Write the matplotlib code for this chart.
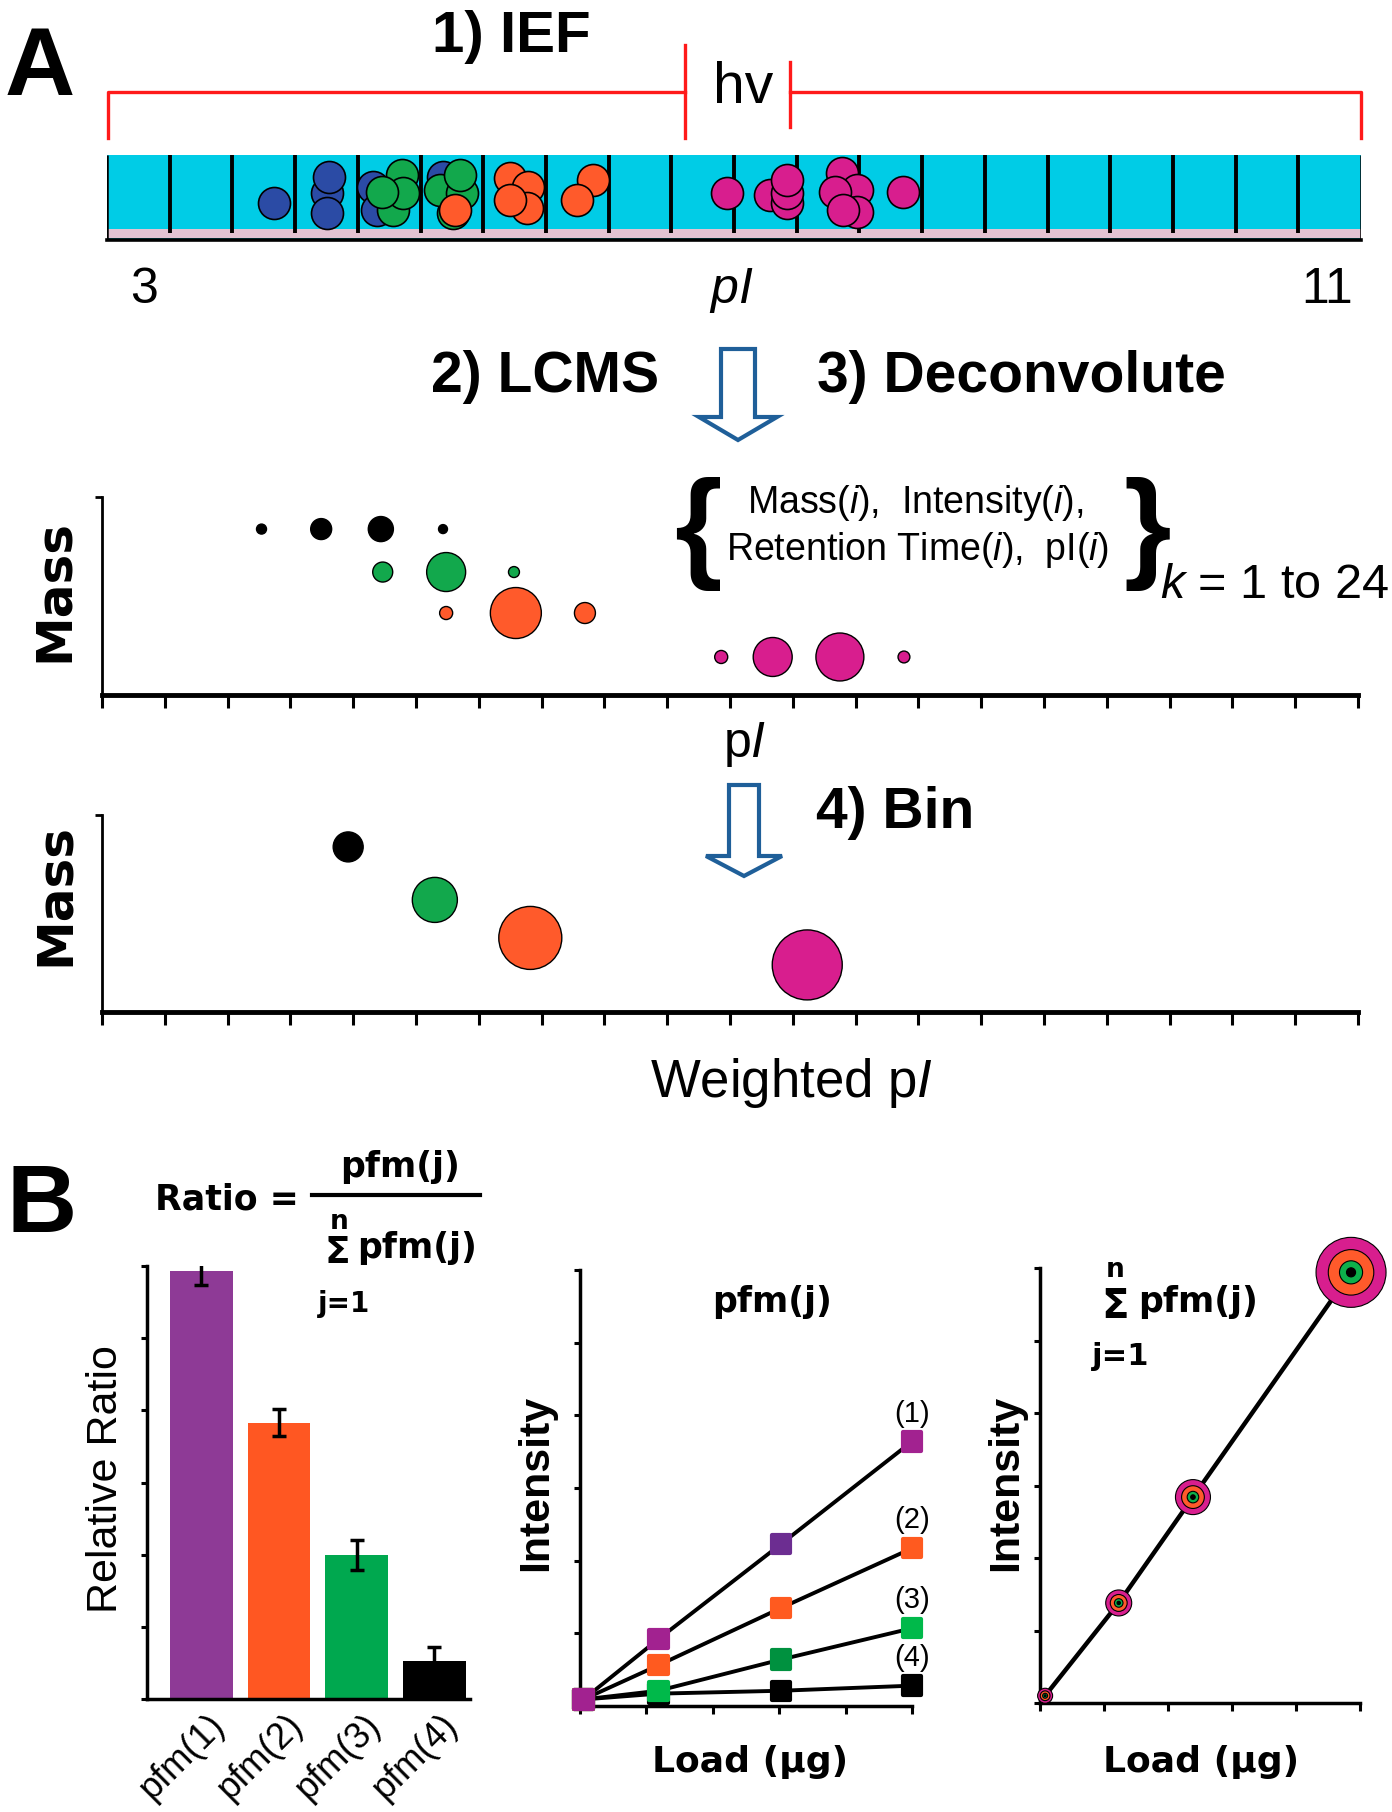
import matplotlib
matplotlib.use('Agg')
import matplotlib.pyplot as plt
from matplotlib.patches import Polygon
from matplotlib.markers import MarkerStyle
import matplotlib.transforms as mtransforms

plt.rcParams['font.family'] = ['Liberation Sans', 'DejaVu Sans']
plt.rcParams['mathtext.fontset'] = 'custom'
plt.rcParams['mathtext.rm'] = 'Liberation Sans'
plt.rcParams['mathtext.it'] = 'Liberation Sans:italic'
plt.rcParams['mathtext.bf'] = 'Liberation Sans:bold'

# ---------------- data ----------------
# 1) IEF tube: fraction position (0-20) and height inside the tube (0-1)
tube_blue_x = [2.66, 3.51, 3.54, 3.51, 5.36, 4.24, 4.31]
tube_blue_y = [0.435, 0.553, 0.741, 0.318, 0.741, 0.624, 0.353]
tube_green_x = [4.56, 4.70, 4.72, 4.39, 5.52, 5.31, 5.66, 5.63]
tube_green_y = [0.353, 0.765, 0.553, 0.565, 0.318, 0.588, 0.553, 0.765]
tube_orange_x = [5.55, 6.43, 6.71, 6.70, 6.43, 7.75, 7.50]
tube_orange_y = [0.353, 0.729, 0.624, 0.376, 0.471, 0.706, 0.471]
tube_magenta_x = [9.89, 10.57, 10.85, 10.85, 10.85, 11.72, 11.96, 11.61, 11.96, 11.74, 12.70]
tube_magenta_y = [0.553, 0.529, 0.435, 0.553, 0.706, 0.788, 0.588, 0.565, 0.329, 0.353, 0.565]

# 2/3) deconvoluted features: pI (fraction units), mass, intensity
lcms_pi = {
    'black': [2.54, 3.49, 4.44, 5.43],
    'green': [4.47, 5.48, 6.56],
    'orange': [5.48, 6.59, 7.69],
    'magenta': [9.86, 10.68, 11.75, 12.77],
}
lcms_mass = {'black': 8.38, 'green': 6.21, 'orange': 4.14, 'magenta': 1.92}
lcms_int = {
    'black': [1.0, 4.4, 6.3, 0.8],
    'green': [4.0, 15.2, 1.2],
    'orange': [1.7, 26.0, 4.4],
    'magenta': [1.7, 15.2, 23.0, 1.4],
}

# 4) binned features
bin_pi = [3.92, 5.30, 6.82, 11.23]
bin_mass = [8.38, 5.69, 3.76, 2.39]
bin_int = [9.0, 20.3, 39.7, 49.0]

# B) relative ratio bars
pfm_labels = ['pfm(1)', 'pfm(2)', 'pfm(3)', 'pfm(4)']
ratio_vals = [5.93, 3.83, 2.00, 0.52]
ratio_err = [0.19, 0.19, 0.21, 0.20]

# B) intensity vs load for each pfm
load = [0.05, 1.18, 3.03, 5.0]
pfm1_int = [0.09, 0.92, 2.23, 3.64]
pfm2_int = [0.09, 0.56, 1.35, 2.17]
pfm3_int = [0.09, 0.21, 0.64, 1.07]
pfm4_int = [0.09, 0.17, 0.21, 0.28]

# B) summed intensity vs load
sum_load = [0.08, 1.23, 2.39, 4.86]
sum_int = [0.10, 1.38, 2.84, 5.94]
sum_size = [2.25, 6.76, 12.25, 49.0]
ring_frac = [1.0, 0.65, 0.33, 0.13]

# ---------------- style ----------------
C = {'blue': '#2B4BA5', 'green': '#12A84C', 'orange': '#FF5A2B',
     'magenta': '#D81E8E', 'black': '#000000'}
CYAN = '#00CCE6'
PINK = '#E2C3D3'
RED = '#FF1A1A'
ARROW = '#1F5F99'
BOLDWIDE = dict(family='DejaVu Sans', weight='bold')

W, H = 1392, 1812
fig = plt.figure(figsize=(W / 100, H / 100), dpi=100)


def px_axes(l, t, r, b):
    return fig.add_axes([l / W, 1 - b / H, (r - l) / W, (b - t) / H])


def area(v, scale=10.0):
    # intensity -> marker area in pt^2 (diameter in px = scale*sqrt(v))
    return v * (scale * 0.72) ** 2


# ---- tube ----
ax = px_axes(107, 155, 1361, 240)
ax.set_xlim(0, 20)
ax.set_ylim(0, 1)
ax.set_facecolor(CYAN)
ax.axhspan(0.02, 0.13, color=PINK, lw=0)
ax.vlines(range(1, 20), 0.08, 1.0, color='black', lw=2.8)
ax.vlines([0, 20], 0.0, 1.0, color='black', lw=1.8)
for sp in ['top', 'left', 'right']:
    ax.spines[sp].set_visible(False)
ax.spines['bottom'].set_linewidth(2.6)
ax.set_xticks([])
ax.set_yticks([])
for xs, ys, col in [(tube_blue_x, tube_blue_y, 'blue'),
                    (tube_green_x, tube_green_y, 'green'),
                    (tube_orange_x, tube_orange_y, 'orange'),
                    (tube_magenta_x, tube_magenta_y, 'magenta')]:
    for x, y in zip(xs, ys):
        ax.scatter([x], [y], s=(32 * 0.72) ** 2, color=C[col], edgecolors='black',
                   linewidths=1.2, zorder=3, clip_on=False)


def pi_axes(t, b):
    a = px_axes(102, t, 1358, b)
    a.set_xlim(0, 20)
    a.set_ylim(0, 10)
    a.spines['top'].set_visible(False)
    a.spines['right'].set_visible(False)
    a.spines['bottom'].set_linewidth(3.5)
    a.spines['left'].set_linewidth(2.0)
    a.set_xticks(range(21))
    a.set_yticks([10])
    a.tick_params(axis='x', direction='out', length=9, width=2.2, labelbottom=False)
    a.tick_params(axis='y', direction='out', length=5, width=2.0, labelleft=False)
    a.patch.set_alpha(0)
    return a


# ---- deconvoluted scatter ----
ax = pi_axes(497, 695)
for col in ['black', 'green', 'orange', 'magenta']:
    xs = lcms_pi[col]
    ax.scatter(xs, [lcms_mass[col]] * len(xs), s=[area(v) for v in lcms_int[col]],
               color=C[col], edgecolors='black', linewidths=1.0, zorder=3, clip_on=False)

# ---- binned scatter ----
ax = pi_axes(815, 1012)
bin_cols = ['black', 'green', 'orange', 'magenta']
ax.scatter(bin_pi, bin_mass, s=[area(v) for v in bin_int], color=[C[c] for c in bin_cols],
           edgecolors='black', linewidths=1.0, zorder=3, clip_on=False)

# ---- bar chart ----
ax = px_axes(147, 1266, 470, 1699)
pos = list(range(len(ratio_vals)))
bar_cols = ['#8E3A96', '#FF5722', '#00A84F', '#000000']
ax.bar(pos, ratio_vals, width=0.81, color=bar_cols, zorder=2)
ax.errorbar(pos, ratio_vals, yerr=ratio_err, fmt='none', ecolor='black',
            elinewidth=2.5, capsize=5, capthick=2.5, zorder=3)
ax.set_xlim(-0.70, 3.46)
ax.set_ylim(0, 6)
ax.set_yticks(range(7))
ax.set_xticks([])
lab_tr = ax.get_xaxis_transform() + mtransforms.ScaledTranslation(
    6 / 100, -8 / 100, fig.dpi_scale_trans)
for p, lab in zip(pos, pfm_labels):
    ax.text(p, 0, lab, transform=lab_tr, rotation=45, ha='right', va='top',
            rotation_mode='anchor', fontsize=26, clip_on=False)
ax.tick_params(axis='y', direction='out', length=4, width=2.2, labelleft=False)
for sp in ['top', 'right']:
    ax.spines[sp].set_visible(False)
for sp in ['left', 'bottom']:
    ax.spines[sp].set_linewidth(2.5)


def load_axes(l, t, r, b):
    a = px_axes(l, t, r, b)
    a.set_xlim(0, 5)
    a.set_ylim(0, 6)
    a.set_xticks(range(6))
    a.set_yticks(range(7))
    a.tick_params(axis='x', direction='out', length=6, width=2.2, labelbottom=False)
    a.tick_params(axis='y', direction='out', length=4, width=2.2, labelleft=False)
    for sp in ['top', 'right']:
        a.spines[sp].set_visible(False)
    for sp in ['left', 'bottom']:
        a.spines[sp].set_linewidth(2.5)
    a.patch.set_alpha(0)
    return a


# ---- pfm(j) intensity vs load ----
ax = load_axes(580, 1270, 912, 1706)
sq = MarkerStyle('s', joinstyle='round')
series = [
    (pfm4_int, ['#000000'] * 4, '(4)'),
    (pfm3_int, ['#00B94A', '#00B94A', '#00913F', '#00B94A'], '(3)'),
    (pfm2_int, ['#FF5A1F'] * 4, '(2)'),
    (pfm1_int, ['#A22290', '#A22290', '#6C2D91', '#A22290'], '(1)'),
]
for ys, cols, lab in series:
    ax.plot(load, ys, color='black', lw=2.8, zorder=2, clip_on=False)
for ys, cols, lab in series:
    ax.scatter(load, ys, s=175, marker=sq, color=cols, edgecolors=cols,
               linewidths=3, zorder=3, clip_on=False)
    ax.annotate(lab, (load[-1], ys[-1]), xytext=(0, 10), textcoords='offset points',
                ha='center', va='bottom', fontsize=21)

# ---- summed intensity vs load ----
ax = load_axes(1040, 1268, 1360, 1703)
ax.plot(sum_load, sum_int, color='black', lw=3.2, zorder=2, clip_on=False)
ring_cols = [C['magenta'], C['orange'], '#0DB04B', '#000000']
for f, col in zip(ring_frac, ring_cols):
    ax.scatter(sum_load, sum_int, s=[area(v * f * f) for v in sum_size], color=col,
               edgecolors='black', linewidths=0.8, zorder=3, clip_on=False)

# ---------------- overlay: labels, bracket, arrows ----------------
ov = fig.add_axes([0, 0, 1, 1], zorder=10)
ov.set_xlim(0, W)
ov.set_ylim(H, 0)
ov.axis('off')


def txt(x, y, s, size, **kw):
    kw.setdefault('ha', 'center')
    kw.setdefault('va', 'baseline')
    ov.text(x, y, s, fontsize=size, **kw)


# panel A
txt(40, 95, 'A', 70, weight='bold')
txt(511, 52, '1) IEF', 42, weight='bold')
txt(743, 103, 'hv', 41)
ov.plot([108, 108, 685], [138, 92, 92], color=RED, lw=2.4)
ov.plot([685, 685], [45, 138], color=RED, lw=2.4)
ov.plot([790, 790], [62, 127], color=RED, lw=2.4)
ov.plot([790, 1361, 1361], [92, 92, 138], color=RED, lw=2.4)
txt(144, 303, '3', 36)
txt(731, 303, r'$\it{pI}$', 36)
txt(1327, 303, '11', 36)

txt(545, 392, '2) LCMS', 41, weight='bold')
txt(1021, 392, '3) Deconvolute', 41, weight='bold')
txt(895, 828, '4) Bin', 41, weight='bold')


def hollow_arrow(cx, top, base, tip, shaft_half, head_half):
    pts = [(cx - shaft_half, top), (cx + shaft_half, top), (cx + shaft_half, base),
           (cx + head_half, base), (cx, tip), (cx - head_half, base),
           (cx - shaft_half, base)]
    ov.add_patch(Polygon(pts, closed=True, facecolor='white', edgecolor=ARROW,
                         lw=3.0, joinstyle='miter'))


hollow_arrow(738, 349, 417, 440, 17, 39)
hollow_arrow(744, 785, 856, 876, 15, 38)

txt(698, 534, '{', 88, va='center', weight='bold', family='Liberation Sans')
txt(1147, 534, '}', 88, va='center', weight='bold', family='Liberation Sans')
txt(915, 513, r'Mass($\it{i}$),  Intensity($\it{i}$),', 27)
txt(918, 560, r'Retention Time($\it{i}$),  pI($\it{i}$)', 27)
txt(1160, 598, r'$\it{k}$ = 1 to 24', 35, ha='left')

txt(54, 590, 'Mass', 36, va='center', rotation=90, **BOLDWIDE)
txt(55, 895, 'Mass', 36, va='center', rotation=90, **BOLDWIDE)
txt(745, 757, r'p$\it{I}$', 36)
txt(791, 1097, r'Weighted p$\it{I}$', 38)

# panel B
txt(42, 1232, 'B', 70, weight='bold')
txt(155, 1210, 'Ratio =', 25, ha='left', **BOLDWIDE)
ov.plot([312, 480], [1195, 1195], color='black', lw=3.0)
txt(400, 1177, 'pfm(j)', 25, **BOLDWIDE)
txt(339, 1229, 'n', 19, **BOLDWIDE)
txt(337, 1263, '\u03a3', 27, **BOLDWIDE)
txt(357, 1258, 'pfm(j)', 25, ha='left', **BOLDWIDE)
txt(318, 1312, 'j=1', 20, ha='left', **BOLDWIDE)
txt(106, 1479, 'Relative Ratio', 31, va='center', rotation=90)

txt(772, 1312, 'pfm(j)', 25, **BOLDWIDE)
txt(536, 1483, 'Intensity', 31, va='center', rotation=90, weight='bold')
txt(750, 1772, 'Load (\u00b5g)', 26, **BOLDWIDE)

txt(1115, 1277, 'n', 19, **BOLDWIDE)
txt(1115, 1318, '\u03a3', 29, **BOLDWIDE)
txt(1138, 1312, 'pfm(j)', 25, ha='left', **BOLDWIDE)
txt(1092, 1365, 'j=1', 22, ha='left', **BOLDWIDE)
txt(1006, 1483, 'Intensity', 31, va='center', rotation=90, weight='bold')
txt(1201, 1772, 'Load (\u00b5g)', 26, **BOLDWIDE)

fig.savefig('out.png', dpi=100)
